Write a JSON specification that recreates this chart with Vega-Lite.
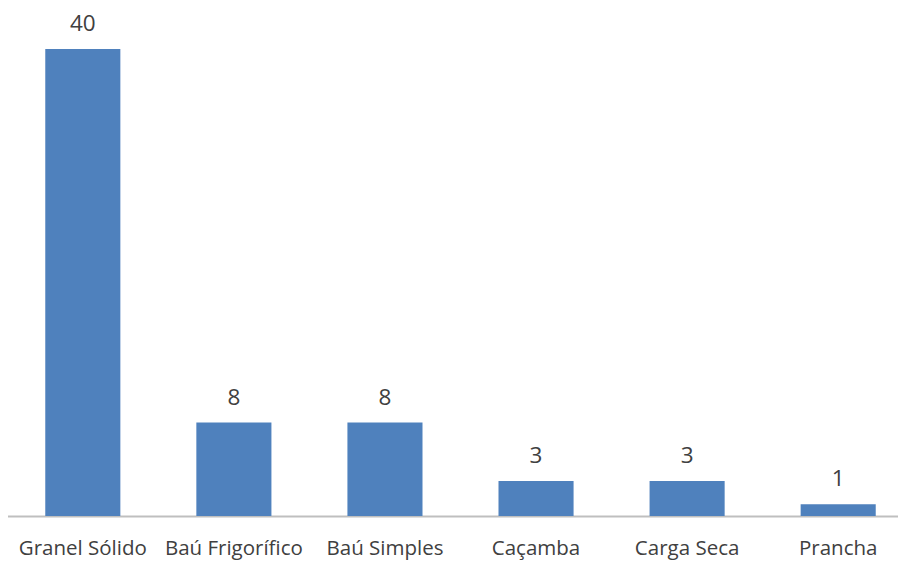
{
  "$schema": "https://vega.github.io/schema/vega-lite/v6.json",
  "autosize": "none",
  "width": 906,
  "height": 467,
  "padding": {"left": 7.5, "top": 49, "right": 0, "bottom": 45},
  "background": "white",
  "config": {"view": {"stroke": null}, "font": "Open Sans"},
  "data": {"values": [
    {"tipo": "Granel Sólido", "valor": 40},
    {"tipo": "Baú Frigorífico", "valor": 8},
    {"tipo": "Baú Simples", "valor": 8},
    {"tipo": "Caçamba", "valor": 3},
    {"tipo": "Carga Seca", "valor": 3},
    {"tipo": "Prancha", "valor": 1}
  ]},
  "encoding": {
    "x": {"field": "tipo", "type": "nominal", "sort": null,
      "scale": {"paddingInner": 0.503, "paddingOuter": 0.25},
      "axis": {"title": null, "labelAngle": 0, "ticks": false, "domainColor": "#bfbfbf", "domainWidth": 2,
        "labelFont": "Open Sans", "labelFontSize": 20.5, "labelColor": "#404040", "labelPadding": 38,
        "labelBaseline": "alphabetic", "labelOverlap": false, "labelLimit": 0}},
    "y": {"field": "valor", "type": "quantitative", "scale": {"domain": [0, 40], "nice": false},
      "axis": null}
  },
  "layer": [
    {"mark": {"type": "bar", "color": "#4f81bd"}},
    {"mark": {"type": "text", "baseline": "alphabetic", "dy": -18, "fontSize": 22.5, "color": "#404040", "font": "Open Sans"},
     "encoding": {"text": {"field": "valor", "type": "quantitative"}}}
  ]
}
